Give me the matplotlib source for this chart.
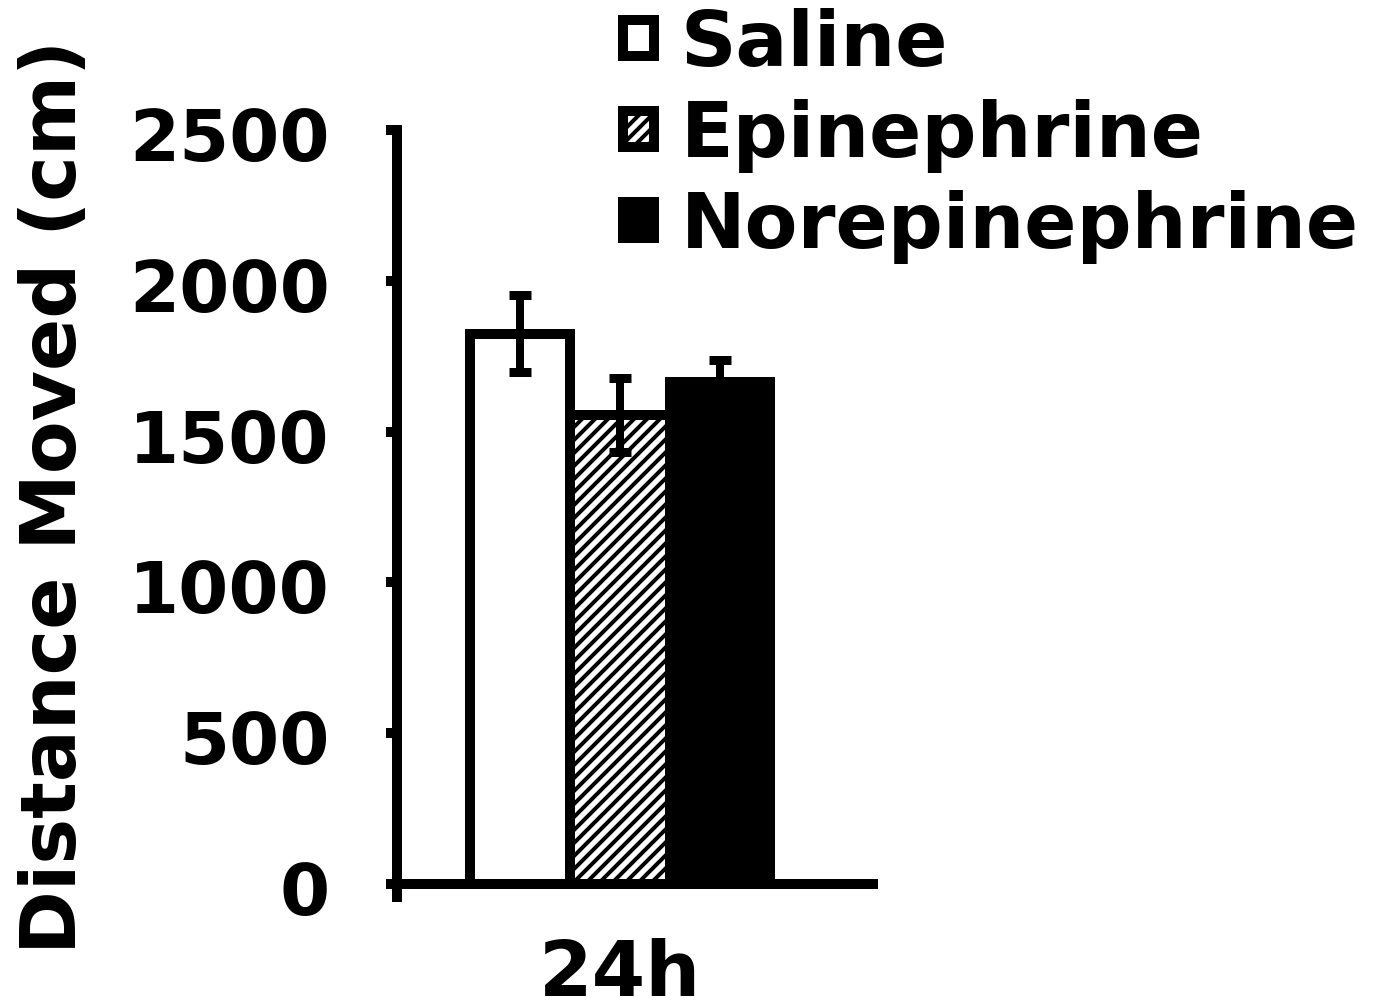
import matplotlib
matplotlib.use('Agg')
import matplotlib.pyplot as plt
import matplotlib.transforms as mtransforms

# chart data
groups = ['Saline', 'Epinephrine', 'Norepinephrine']
means = [1824, 1555, 1664]
errs = [128, 123, 73]
yticks = [0, 500, 1000, 1500, 2000, 2500]
xlabel = '24h'
ylabel = 'Distance Moved (cm)'

# styles
faces = ['white', 'white', 'black']
hatches = ['', '//', '']

DPI = 78


def px(n):
    # pixels -> points at this dpi
    return n * 72.0 / DPI


plt.rcParams['font.family'] = 'DejaVu Sans'
plt.rcParams['font.weight'] = 'bold'
plt.rcParams['hatch.linewidth'] = px(4)

fig = plt.figure(figsize=(1378 / DPI, 1003 / DPI), dpi=DPI)
ax = fig.add_axes([0.2881, 0.1057, 0.3454, 0.7647])

for i in range(len(groups)):
    ax.bar(i, means[i], width=1.0, color=faces[i], edgecolor='black',
           linewidth=px(10), hatch=hatches[i], label=groups[i], zorder=2)

ax.errorbar(range(len(groups)), means, yerr=errs, fmt='none', ecolor='black',
            elinewidth=px(8), capsize=px(11), capthick=px(9), zorder=3)

ax.set_xlim(-1.23, 3.53)
ax.set_ylim(-43, 2500)

ax.spines['top'].set_visible(False)
ax.spines['right'].set_visible(False)
ax.spines['bottom'].set_position(('data', 0))
for s in ['left', 'bottom']:
    ax.spines[s].set_linewidth(px(10))
    ax.spines[s].set_capstyle('projecting')

ax.set_yticks(yticks)
ax.tick_params(axis='y', length=px(11), width=px(10), direction='out',
               labelsize=px(72), pad=px(56))
# labels sit a little below their ticks in the original
shift = mtransforms.ScaledTranslation(0, -4 / DPI, fig.dpi_scale_trans)
for lab in ax.get_yticklabels():
    lab.set_transform(lab.get_transform() + shift)

ax.set_xticks([1])
ax.set_xticklabels([xlabel])
ax.tick_params(axis='x', length=0, labelsize=px(77), pad=px(54))

fig.text(55 / 1378, 1 - 497 / 1003, ylabel, rotation=90, ha='center',
         va='center', fontsize=px(77), fontweight='bold')

ax.legend(loc='upper left', bbox_to_anchor=(623 / 1378, 1 - 8 / 1003),
          bbox_transform=fig.transFigure, frameon=False, fontsize=px(77),
          handlelength=0.4, handleheight=0.34, handletextpad=0.35,
          labelspacing=0.22, borderpad=0, borderaxespad=0)

fig.savefig('out.png', dpi=DPI)
